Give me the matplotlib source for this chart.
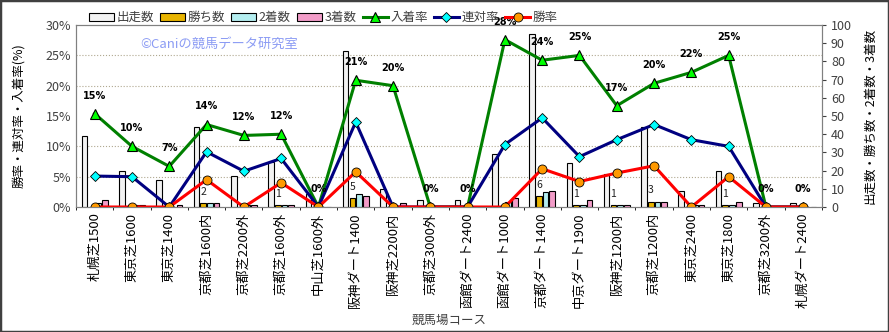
import numpy as np
import matplotlib
matplotlib.use("Agg")
import matplotlib.pyplot as plt
from matplotlib.patches import Rectangle

plt.rcParams['font.family'] = ['Noto Sans CJK JP', 'DejaVu Sans']

# course names
courses = ['札幌芝1500', '東京芝1600', '東京芝1400', '京都芝1600内', '京都芝2200外',
           '京都芝1600外', '中山芝1600外', '阪神ダート1400', '阪神芝2200内', '京都芝3000外',
           '函館ダート2400', '函館ダート1000', '京都ダート1400', '中京ダート1900',
           '阪神芝1200内', '京都芝1200内', '東京芝2400', '東京芝1800', '京都芝3200外',
           '札幌ダート2400']

# counts (right axis)
starts = [39, 20, 15, 44, 17, 25, 7, 86, 10, 4, 4, 29, 95, 24, 18, 44, 9, 20, 2, 2]
wins = [0, 0, 0, 2, 0, 1, 0, 5, 0, 0, 0, 0, 6, 1, 1, 3, 0, 1, 0, 0]
seconds = [2, 1, 0, 2, 1, 1, 0, 7, 0, 0, 0, 3, 8, 1, 1, 3, 1, 1, 0, 0]
thirds = [4, 1, 1, 2, 1, 1, 0, 6, 2, 0, 0, 5, 9, 4, 1, 3, 1, 3, 0, 0]

# rates in % (left axis)
place_rate = [15.4, 10.0, 6.7, 13.6, 11.8, 12.0, 0, 20.9, 20.0, 0, 0, 27.6, 24.2, 25.0,
              16.7, 20.4, 22.2, 25.0, 0, 0]
quinella_rate = [5.1, 5.0, 0, 9.1, 5.9, 8.0, 0, 14.0, 0, 0, 0, 10.3, 14.7, 8.3,
                 11.1, 13.6, 11.1, 10.0, 0, 0]
win_rate = [0, 0, 0, 4.5, 0, 4.0, 0, 5.8, 0, 0, 0, 0, 6.3, 4.2, 5.6, 6.8, 0, 5.0, 0, 0]

x = np.arange(len(courses))
step = 0.18
bw = 0.15
gray = '#404040'

fig = plt.figure(figsize=(8.89, 3.32), dpi=100)
fig.patches.append(Rectangle((0, 0), 1, 1, transform=fig.transFigure, fill=False,
                             edgecolor='#404040', linewidth=2.5))

ax = fig.add_axes([0.0855, 0.3765, 0.839, 0.548])   # rates, left axis
ax2 = ax.twinx()                                     # counts, right axis
ax.set_zorder(ax2.get_zorder() + 1)
ax.patch.set_visible(False)
ax2.patch.set_facecolor('#f6e9cc')

# bars
ax2.bar(x - 1.5 * step, starts, bw, color='#f2f2f2', edgecolor='black', linewidth=0.8, label='出走数', zorder=3)
ax2.bar(x - 0.5 * step, wins, bw, color='#e8b400', edgecolor='black', linewidth=0.8, label='勝ち数', zorder=3)
ax2.bar(x + 0.5 * step, seconds, bw, color='#b4eef0', edgecolor='black', linewidth=0.8, label='2着数', zorder=3)
ax2.bar(x + 1.5 * step, thirds, bw, color='#f29cc8', edgecolor='black', linewidth=0.8, label='3着数', zorder=3)
for xi, w in zip(x, wins):
    if w > 0:
        ax2.annotate(str(w), (xi - 0.5 * step, w), xytext=(0, 8), textcoords='offset points',
                     ha='center', va='center', fontsize=7.5, color='#202020')

ax2.set_ylim(0, 100)
ax2.set_yticks(range(0, 101, 10))
ax2.tick_params(axis='y', labelsize=9, labelcolor=gray, length=3, color=gray)
ax2.set_ylabel('出走数・勝ち数・2着数・3着数', fontsize=9, rotation=90, labelpad=8)
ax2.set_yticks(np.linspace(0, 100, 7), minor=True)
ax2.set_xticks(np.arange(-0.5, len(courses), 1), minor=True)
ax2.tick_params(which='minor', length=0)
ax2.grid(which='minor', color='#b0a890', linestyle=':', linewidth=0.8, zorder=0)
ax2.set_axisbelow(True)

# lines
l1, = ax.plot(x, place_rate, color='#008000', linewidth=2.2, marker='^', markersize=7,
              markerfacecolor='#00ff00', markeredgecolor='black', markeredgewidth=0.8, label='入着率')
l2, = ax.plot(x, quinella_rate, color='#000080', linewidth=2.2, marker='D', markersize=5,
              markerfacecolor='#00ffff', markeredgecolor='black', markeredgewidth=0.6, label='連対率')
l3, = ax.plot(x, win_rate, color='#ff0000', linewidth=2.2, marker='o', markersize=6.5,
              markerfacecolor='#ff9900', markeredgecolor='black', markeredgewidth=0.6, label='勝率')
for xi, v in zip(x, place_rate):
    ax.annotate(f'{v:.0f}%', (xi, v), xytext=(0, 13), textcoords='offset points',
                ha='center', va='center', fontsize=7, fontweight='bold', family='DejaVu Sans')

ax.set_xlim(-0.5, len(courses) - 0.5)
ax.set_ylim(0, 30)
ax.set_yticks(range(0, 31, 5))
ax.set_yticklabels([f'{v}%' for v in range(0, 31, 5)])
ax.tick_params(axis='y', labelsize=9, labelcolor=gray, length=0)
ax.set_xticks(x)
ax.set_xticklabels(courses, rotation=90, fontsize=9.5)
ax.tick_params(axis='x', length=0, pad=4)
ax2.tick_params(axis='x', length=0)
ax.set_ylabel('勝率・連対率・入着率(%)', fontsize=9, labelpad=15)
ax.set_xlabel('競馬場コース', fontsize=9, color=gray, labelpad=4)
for a in (ax, ax2):
    for s in a.spines.values():
        s.set_color('#808080')
        s.set_linewidth(0.8)

h2, lab2 = ax2.get_legend_handles_labels()
fig.legend(h2 + [l1, l2, l3], lab2 + ['入着率', '連対率', '勝率'], ncol=7, loc='upper left',
           bbox_to_anchor=(0.087, 1.0), frameon=False, fontsize=9, handlelength=2.0,
           handleheight=0.6, columnspacing=0.5, handletextpad=0.2, labelcolor=gray)

fig.text(0.158, 0.855, '©Caniの競馬データ研究室', fontsize=9.5, color='#8c9cf4')

fig.savefig('out.png', dpi=100)
